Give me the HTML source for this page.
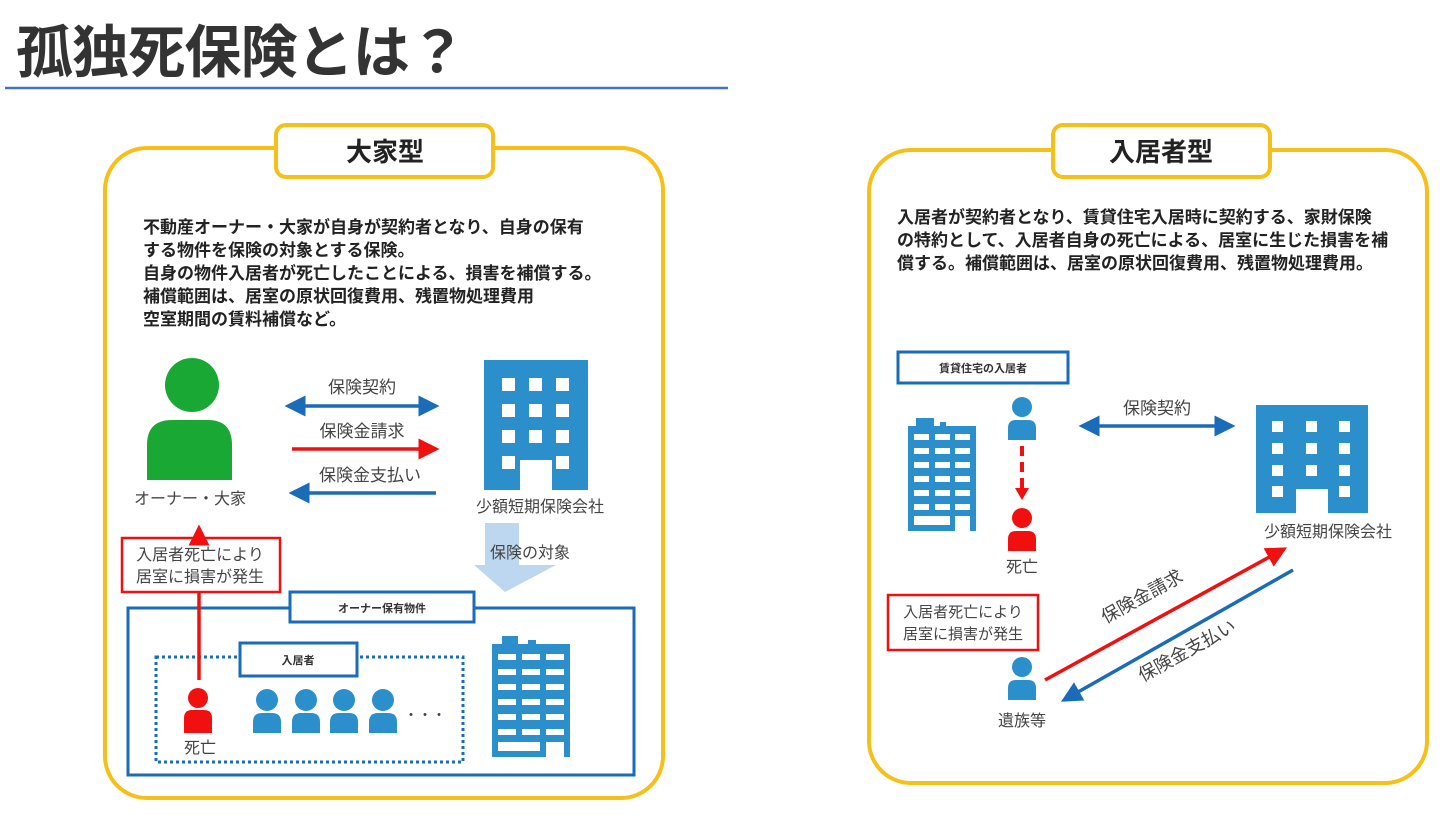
<!DOCTYPE html>
<html><head><meta charset="utf-8"><style>
body{margin:0;background:#fff;}
svg{display:block;font-family:"Liberation Sans","Noto Sans CJK JP",sans-serif;}
</style></head><body>
<svg width="1440" height="818" viewBox="0 0 1440 818" xmlns="http://www.w3.org/2000/svg">
<defs>
<marker id="bh" markerWidth="6" markerHeight="6" refX="5" refY="3" orient="auto" markerUnits="strokeWidth"><path d="M0,0 L6,3 L0,6 z" fill="#1a6bb8"/></marker>
<marker id="bt" markerWidth="6" markerHeight="6" refX="1" refY="3" orient="auto" markerUnits="strokeWidth"><path d="M6,0 L0,3 L6,6 z" fill="#1a6bb8"/></marker>
<marker id="rh" markerWidth="6" markerHeight="6" refX="5" refY="3" orient="auto" markerUnits="strokeWidth"><path d="M0,0 L6,3 L0,6 z" fill="#f01010"/></marker>
</defs>
<text x="16" y="72" font-size="57" font-weight="bold" fill="#333" textLength="450" lengthAdjust="spacing">孤独死保険とは？</text>
<line x1="5" y1="88" x2="728" y2="88" stroke="#4472c4" stroke-width="2.5"/>

<!-- LEFT PANEL -->
<rect x="105" y="148" width="558" height="650" rx="42" fill="#fff" stroke="#f5c01a" stroke-width="4"/>
<rect x="276" y="125" width="217" height="52" rx="10" fill="#fff" stroke="#f5c01a" stroke-width="4"/>
<text x="385" y="161" font-size="26" font-weight="bold" text-anchor="middle" fill="#222">大家型</text>
<g font-size="17" font-weight="bold" fill="#222">
<text x="143" y="233">不動産オーナー・大家が自身が契約者となり、自身の保有</text>
<text x="143" y="256">する物件を保険の対象とする保険。</text>
<text x="143" y="279">自身の物件入居者が死亡したことによる、損害を補償する。</text>
<text x="143" y="302">補償範囲は、居室の原状回復費用、残置物処理費用</text>
<text x="143" y="325">空室期間の賃料補償など。</text>
</g>
<circle cx="192" cy="385" r="27" fill="#1aa834"/>
<path d="M147,480 L147,445 Q147,420 172,420 L208,420 Q232,420 232,445 L232,480 Z" fill="#1aa834"/>
<text x="190" y="504" font-size="16" text-anchor="middle" fill="#444">オーナー・大家</text>

<text x="362" y="393" font-size="17" text-anchor="middle" fill="#444">保険契約</text>
<line x1="288" y1="406" x2="436" y2="406" stroke="#1a6bb8" stroke-width="3.5" marker-end="url(#bh)" marker-start="url(#bt)"/>
<text x="362" y="437" font-size="17" text-anchor="middle" fill="#444">保険金請求</text>
<line x1="292" y1="449" x2="436" y2="449" stroke="#f01010" stroke-width="3.5" marker-end="url(#rh)"/>
<text x="370" y="481" font-size="17" text-anchor="middle" fill="#444">保険金支払い</text>
<line x1="436" y1="493" x2="292" y2="493" stroke="#1a6bb8" stroke-width="3.5" marker-end="url(#bh)"/>

<g transform="translate(484,360)">
<path d="M0,0 H104 V130 H68 V100 H36 V130 H0 Z" fill="#2a8fca"/>
<g fill="#fff">
<rect x="18" y="18" width="13" height="13"/><rect x="45" y="18" width="13" height="13"/><rect x="72" y="18" width="13" height="13"/>
<rect x="18" y="44" width="13" height="13"/><rect x="45" y="44" width="13" height="13"/><rect x="72" y="44" width="13" height="13"/>
<rect x="18" y="70" width="13" height="13"/><rect x="45" y="70" width="13" height="13"/><rect x="72" y="70" width="13" height="13"/>
<rect x="18" y="96" width="13" height="13"/><rect x="72" y="96" width="13" height="13"/>
</g>
</g>
<text x="540" y="512" font-size="16" text-anchor="middle" fill="#444">少額短期保険会社</text>
<path d="M485,523 H519 V565 H556 L505,592 L474,565 H485 Z" fill="#bcd7ef"/>
<text x="530" y="558" font-size="16" text-anchor="middle" fill="#444">保険の対象</text>

<rect x="128" y="608" width="506" height="167" fill="none" stroke="#1a6bb8" stroke-width="3"/>
<rect x="290" y="592" width="184" height="30" fill="#fff" stroke="#1a6bb8" stroke-width="3"/>
<text x="382" y="612" font-size="11" font-weight="bold" text-anchor="middle" fill="#333">オーナー保有物件</text>
<rect x="156" y="657" width="307" height="105" fill="none" stroke="#1a6bb8" stroke-width="3" stroke-dasharray="3,3"/>
<rect x="240" y="643" width="117" height="33" fill="#fff" stroke="#1a6bb8" stroke-width="3"/>
<text x="298" y="664" font-size="11" font-weight="bold" text-anchor="middle" fill="#333">入居者</text>

<rect x="122" y="538" width="158" height="54" fill="#fff" stroke="#f01010" stroke-width="2.5"/>
<text x="200" y="560" font-size="16" text-anchor="middle" fill="#444">入居者死亡により</text>
<text x="200" y="582" font-size="16" text-anchor="middle" fill="#444">居室に損害が発生</text>
<line x1="199" y1="538" x2="199" y2="528" stroke="#f01010" stroke-width="3.5" marker-end="url(#rh)"/>
<line x1="199" y1="592" x2="199" y2="680" stroke="#f01010" stroke-width="3.5"/>

<g fill="#f01010"><circle cx="198" cy="698" r="10"/><path d="M184,733 V718 Q184,710 192,710 H204 Q212,710 212,718 V733 Z"/></g>
<g fill="#2a8fca">
<circle cx="267" cy="700" r="11"/><path d="M253,733 V722 Q253,713 262,713 H272 Q281,713 281,722 V733 Z"/>
<circle cx="306" cy="700" r="11"/><path d="M292,733 V722 Q292,713 301,713 H311 Q320,713 320,722 V733 Z"/>
<circle cx="344" cy="700" r="11"/><path d="M330,733 V722 Q330,713 339,713 H349 Q358,713 358,722 V733 Z"/>
<circle cx="383" cy="700" r="11"/><path d="M369,733 V722 Q369,713 378,713 H388 Q397,713 397,722 V733 Z"/>
</g>
<text x="425" y="720" font-size="14" text-anchor="middle" fill="#444">・・・</text>
<text x="200" y="753" font-size="16" text-anchor="middle" fill="#444">死亡</text>

<g transform="translate(492,636)">
<path d="M0,8 H10 V0 H26 V8 H36 V4 H44 V8 H78 V121 H0 Z" fill="#2a8fca"/>
<g fill="#fff">
<rect x="6" y="18" width="18" height="6"/><rect x="30" y="18" width="18" height="6"/><rect x="54" y="18" width="18" height="6"/>
<rect x="6" y="33" width="18" height="6"/><rect x="30" y="33" width="18" height="6"/><rect x="54" y="33" width="18" height="6"/>
<rect x="6" y="48" width="18" height="6"/><rect x="30" y="48" width="18" height="6"/><rect x="54" y="48" width="18" height="6"/>
<rect x="6" y="63" width="18" height="6"/><rect x="30" y="63" width="18" height="6"/><rect x="54" y="63" width="18" height="6"/>
<rect x="6" y="78" width="18" height="6"/><rect x="30" y="78" width="18" height="6"/><rect x="54" y="78" width="18" height="6"/>
<rect x="6" y="93" width="18" height="6"/><rect x="30" y="93" width="18" height="6"/><rect x="54" y="93" width="18" height="6"/>
<rect x="6" y="106" width="42" height="9"/><rect x="54" y="106" width="18" height="15"/>
</g>
</g>

<!-- RIGHT PANEL -->
<rect x="869" y="150" width="558" height="633" rx="42" fill="#fff" stroke="#f5c01a" stroke-width="4"/>
<rect x="1053" y="125" width="217" height="52" rx="10" fill="#fff" stroke="#f5c01a" stroke-width="4"/>
<text x="1161" y="161" font-size="26" font-weight="bold" text-anchor="middle" fill="#222">入居者型</text>
<g font-size="17" font-weight="bold" fill="#222">
<text x="897" y="223">入居者が契約者となり、賃貸住宅入居時に契約する、家財保険</text>
<text x="897" y="246">の特約として、入居者自身の死亡による、居室に生じた損害を補</text>
<text x="897" y="269">償する。補償範囲は、居室の原状回復費用、残置物処理費用。</text>
</g>
<rect x="898" y="352" width="170" height="31" fill="#fff" stroke="#1a6bb8" stroke-width="3"/>
<text x="983" y="372" font-size="11" font-weight="bold" text-anchor="middle" fill="#333">賃貸住宅の入居者</text>

<g transform="translate(908,418)">
<path d="M0,8 H8 V0 H26 V8 H32 V4 H38 V8 H68 V113 H0 Z" fill="#2a8fca"/>
<g fill="#fff">
<rect x="6" y="16" width="15" height="6"/><rect x="27" y="16" width="15" height="6"/><rect x="47" y="16" width="15" height="6"/>
<rect x="6" y="30" width="15" height="6"/><rect x="27" y="30" width="15" height="6"/><rect x="47" y="30" width="15" height="6"/>
<rect x="6" y="44" width="15" height="6"/><rect x="27" y="44" width="15" height="6"/><rect x="47" y="44" width="15" height="6"/>
<rect x="6" y="58" width="15" height="6"/><rect x="27" y="58" width="15" height="6"/><rect x="47" y="58" width="15" height="6"/>
<rect x="6" y="72" width="15" height="6"/><rect x="27" y="72" width="15" height="6"/><rect x="47" y="72" width="15" height="6"/>
<rect x="6" y="86" width="15" height="6"/><rect x="27" y="86" width="15" height="6"/><rect x="47" y="86" width="15" height="6"/>
<rect x="6" y="98" width="36" height="9"/><rect x="47" y="98" width="15" height="15"/>
</g>
</g>

<g fill="#2a8fca"><circle cx="1022" cy="407" r="10"/><path d="M1008,440 V428 Q1008,420 1016,420 H1028 Q1036,420 1036,428 V440 Z"/></g>
<line x1="1022" y1="446" x2="1022" y2="492" stroke="#f01010" stroke-width="4" stroke-dasharray="10,6"/>
<path d="M1015,488 L1029,488 L1022,500 Z" fill="#f01010"/>
<g fill="#f01010"><circle cx="1022" cy="518" r="10"/><path d="M1008,551 V539 Q1008,531 1016,531 H1028 Q1036,531 1036,539 V551 Z"/></g>
<text x="1022" y="572" font-size="16" text-anchor="middle" fill="#444">死亡</text>

<text x="1157" y="414" font-size="17" text-anchor="middle" fill="#444">保険契約</text>
<line x1="1082" y1="426" x2="1232" y2="426" stroke="#1a6bb8" stroke-width="3.5" marker-end="url(#bh)" marker-start="url(#bt)"/>

<g transform="translate(1256,405)">
<path d="M0,0 H112 V108 H72 V84 H40 V108 H0 Z" fill="#2a8fca"/>
<g fill="#fff">
<rect x="16" y="16" width="11" height="11"/><rect x="50" y="16" width="11" height="11"/><rect x="83" y="16" width="11" height="11"/>
<rect x="16" y="38" width="11" height="11"/><rect x="50" y="38" width="11" height="11"/><rect x="83" y="38" width="11" height="11"/>
<rect x="16" y="60" width="11" height="11"/><rect x="50" y="60" width="11" height="11"/><rect x="83" y="60" width="11" height="11"/>
<rect x="16" y="81" width="11" height="11"/><rect x="83" y="81" width="11" height="11"/>
</g>
</g>
<text x="1328" y="537" font-size="16" text-anchor="middle" fill="#444">少額短期保険会社</text>

<rect x="888" y="595" width="150" height="55" fill="#fff" stroke="#f01010" stroke-width="2.5"/>
<text x="963" y="617" font-size="15" text-anchor="middle" fill="#444">入居者死亡により</text>
<text x="963" y="639" font-size="15" text-anchor="middle" fill="#444">居室に損害が発生</text>

<g fill="#2a8fca"><circle cx="1022" cy="667" r="10"/><path d="M1008,700 V688 Q1008,680 1016,680 H1028 Q1036,680 1036,688 V700 Z"/></g>
<text x="1022" y="726" font-size="16" text-anchor="middle" fill="#444">遺族等</text>

<line x1="1045" y1="680" x2="1284" y2="549" stroke="#f01010" stroke-width="3.5" marker-end="url(#rh)"/>
<line x1="1293" y1="570" x2="1064" y2="700" stroke="#1a6bb8" stroke-width="3.5" marker-end="url(#bh)"/>
<text transform="translate(1145,602) rotate(-29)" font-size="18" text-anchor="middle" fill="#444">保険金請求</text>
<text transform="translate(1190,656) rotate(-29)" font-size="18" text-anchor="middle" fill="#444">保険金支払い</text>
</svg>
</body></html>
